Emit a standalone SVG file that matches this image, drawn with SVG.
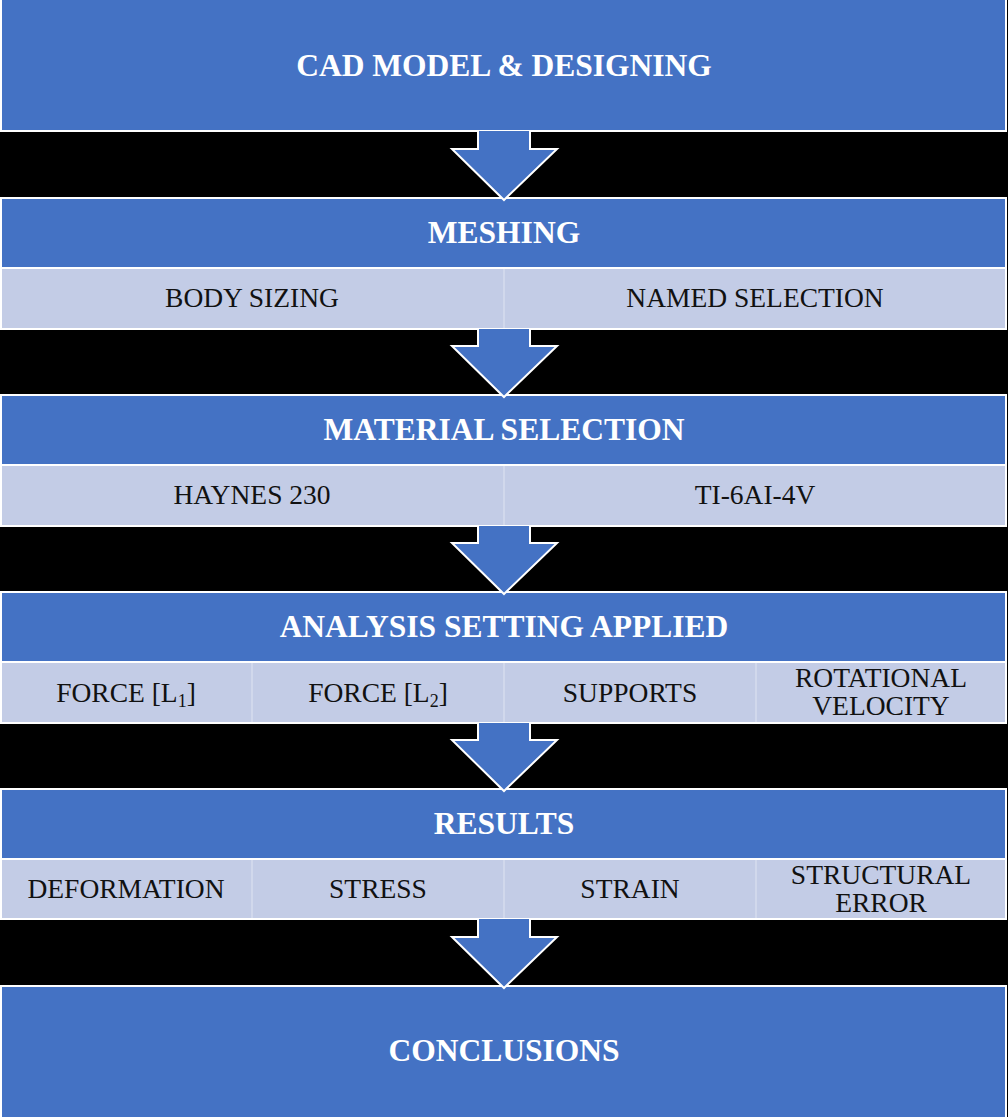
<svg xmlns="http://www.w3.org/2000/svg" width="1008" height="1117" viewBox="0 0 1008 1117">
<style>
.h{fill:#4472C4;stroke:#fff;stroke-width:2}
.s{fill:#C3CCE6;stroke:#fff;stroke-width:2}
.c{fill:none;stroke:#D6DCEE;stroke-width:1.5}
.ht{font-family:"Liberation Serif","Times New Roman",serif;font-weight:bold;font-size:31.5px;fill:#fff;text-anchor:middle}
.st{font-family:"Liberation Serif","Times New Roman",serif;font-size:27.5px;fill:#111;text-anchor:middle}
.sub{font-size:18px}
.ar{fill:#4472C4;stroke:#fff;stroke-width:2;stroke-linejoin:miter}
</style>
<rect x="0" y="0" width="1008" height="1117" fill="#000"/>
<g id="n-cad">
<rect class="h" x="1" y="-2" width="1005" height="133"/>
<text class="ht" x="504" y="76">CAD MODEL &amp; DESIGNING</text>
</g>
<g id="n-meshing">
<rect class="h" x="1" y="198" width="1005" height="70"/>
<rect class="s" x="1" y="268" width="1005" height="61"/>
<line class="c" x1="504" y1="269" x2="504" y2="328"/>
<text class="ht" x="504" y="243">MESHING</text>
<text class="st" x="252" y="307">BODY SIZING</text>
<text class="st" x="755" y="307">NAMED SELECTION</text>
</g>
<g id="n-material">
<rect class="h" x="1" y="395" width="1005" height="70"/>
<rect class="s" x="1" y="465" width="1005" height="61"/>
<line class="c" x1="504" y1="466" x2="504" y2="525"/>
<text class="ht" x="504" y="440">MATERIAL SELECTION</text>
<text class="st" x="252" y="504">HAYNES 230</text>
<text class="st" x="755" y="504">TI-6AI-4V</text>
</g>
<g id="n-analysis">
<rect class="h" x="1" y="592" width="1005" height="70"/>
<rect class="s" x="1" y="662" width="1005" height="61"/>
<line class="c" x1="252" y1="663" x2="252" y2="722"/>
<line class="c" x1="504" y1="663" x2="504" y2="722"/>
<line class="c" x1="756" y1="663" x2="756" y2="722"/>
<text class="ht" x="504" y="637">ANALYSIS SETTING APPLIED</text>
<text class="st" x="126" y="702">FORCE [L<tspan class="sub" dy="5">1</tspan><tspan dy="-5">]</tspan></text>
<text class="st" x="378" y="702">FORCE [L<tspan class="sub" dy="5">2</tspan><tspan dy="-5">]</tspan></text>
<text class="st" x="630" y="702">SUPPORTS</text>
<text class="st" x="881" y="687">ROTATIONAL</text>
<text class="st" x="881" y="715">VELOCITY</text>
</g>
<g id="n-results">
<rect class="h" x="1" y="789" width="1005" height="70"/>
<rect class="s" x="1" y="859" width="1005" height="60"/>
<line class="c" x1="252" y1="860" x2="252" y2="918"/>
<line class="c" x1="504" y1="860" x2="504" y2="918"/>
<line class="c" x1="756" y1="860" x2="756" y2="918"/>
<text class="ht" x="504" y="834">RESULTS</text>
<text class="st" x="126" y="898">DEFORMATION</text>
<text class="st" x="378" y="898">STRESS</text>
<text class="st" x="630" y="898">STRAIN</text>
<text class="st" x="881" y="884">STRUCTURAL</text>
<text class="st" x="881" y="912">ERROR</text>
</g>
<g id="n-conclusions">
<rect class="h" x="1" y="986" width="1005" height="133"/>
<text class="ht" x="504" y="1061">CONCLUSIONS</text>
</g>
<g id="connectors">
<path class="ar" d="M478,131 L478,149 L452,149 L504,200 L557,149 L530,149 L530,131"/>
<path class="ar" d="M478,329 L478,346 L452,346 L504,397 L557,346 L530,346 L530,329"/>
<path class="ar" d="M478,526 L478,543 L452,543 L504,594 L557,543 L530,543 L530,526"/>
<path class="ar" d="M478,723 L478,740 L452,740 L504,791 L557,740 L530,740 L530,723"/>
<path class="ar" d="M478,919 L478,937 L452,937 L504,988 L557,937 L530,937 L530,919"/>
</g>
</svg>
